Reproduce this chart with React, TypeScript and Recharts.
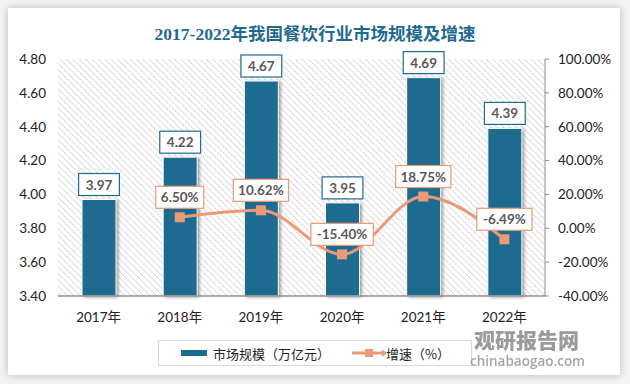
import React from "react";
import {
  ComposedChart,
  Bar,
  Line,
  XAxis,
  YAxis,
  LabelList,
  CartesianGrid,
} from "recharts";

const years = ["2017年", "2018年", "2019年", "2020年", "2021年", "2022年"];
const marketSize = [3.97, 4.22, 4.67, 3.95, 4.69, 4.39];
const growth = [null, 6.5, 10.62, -15.4, 18.75, -6.49];
const leftTicks = [3.4, 3.6, 3.8, 4.0, 4.2, 4.4, 4.6, 4.8];
const rightTicks = [-40, -20, 0, 20, 40, 60, 80, 100];

const data = years.map((year, i) => ({
  year,
  size: marketSize[i],
  growth: growth[i],
}));

const BAR_COLOR = "#1d6b8f";
const LINE_COLOR = "#e99a79";
const TEXT_FONT = "Lato, 'Noto Sans CJK SC', sans-serif";

function BoxLabel(props: any) {
  const { x, y, width, value, border, format, gap } = props;
  if (value == null) return null;
  const text = format(value);
  const w = text.length * 7.2 + 12;
  const h = 22;
  const cx = width != null ? x + width / 2 : x;
  const top = y - gap - h;
  return (
    <g>
      <rect
        x={cx - w / 2}
        y={top}
        width={w}
        height={h}
        fill="#fff"
        stroke={border}
        strokeWidth={1.2}
      />
      <text
        x={cx}
        y={top + h / 2 + 5}
        textAnchor="middle"
        fontFamily={TEXT_FONT}
        fontWeight={700}
        fontSize={13.5}
        fill="#595959"
      >
        {text}
      </text>
    </g>
  );
}

function LegendBox() {
  return (
    <div
      style={{
        position: "absolute",
        left: 158,
        top: 340,
        width: 314,
        height: 26,
        boxSizing: "border-box",
        border: "1px solid #d9d9d9",
        display: "flex",
        alignItems: "center",
        fontFamily: "'Noto Sans CJK SC', sans-serif",
        fontSize: 13,
        color: "#222",
      }}
    >
      <span
        style={{
          display: "inline-block",
          width: 26,
          height: 6,
          background: BAR_COLOR,
          marginLeft: 22,
          marginRight: 6,
        }}
      />
      <span>市场规模（万亿元）</span>
      <svg width={34} height={12} style={{ marginLeft: 22 }}>
        <line x1={0} y1={6} x2={34} y2={6} stroke={LINE_COLOR} strokeWidth={3} />
        <rect x={13} y={2} width={8} height={8} fill={LINE_COLOR} />
        <path d="M30 2 L34 6 L30 10 Z" fill={LINE_COLOR} />
      </svg>
      <span>增速（%）</span>
    </div>
  );
}

export default function App() {
  return (
    <div
      style={{
        position: "absolute",
        left: 0,
        top: 0,
        width: 630,
        height: 384,
        background: "#f4f4f4",
        overflow: "hidden",
      }}
    >
      <style>{`.bar-shadow .recharts-rectangle { filter: drop-shadow(2px 1px 1.5px rgba(0,0,0,0.35)); }`}</style>
      <svg
        width={10}
        height={10}
        style={{ position: "absolute", left: -50, top: -50 }}
      >
        <defs>
          <pattern
            id="hatch"
            width={4.5}
            height={4.5}
            patternUnits="userSpaceOnUse"
            patternTransform="rotate(-45)"
          >
            <line
              x1={0.6}
              y1={0}
              x2={0.6}
              y2={4.5}
              stroke="#c2c2c2"
              strokeWidth={1.2}
              strokeDasharray="1.1 1.15"
            />
          </pattern>
        </defs>
      </svg>
      <div
        style={{
          position: "absolute",
          left: 8,
          top: 8,
          width: 612,
          height: 367,
          background: "#fff",
          boxShadow: "0 0 8px rgba(0,0,0,0.25)",
        }}
      />
      <div
        style={{
          position: "absolute",
          left: 0,
          top: 20,
          width: 630,
          textAlign: "center",
          fontFamily: "'Liberation Serif', 'Noto Sans CJK SC', serif",
          fontWeight: 700,
          fontSize: 17.5,
          color: "#1f6a8e",
        }}
      >
        2017-2022年我国餐饮行业市场规模及增速
      </div>
      <div style={{ position: "absolute", left: 0, top: 0 }}>
        <ComposedChart
          width={630}
          height={384}
          data={data}
          margin={{ top: 59, right: 20, left: 0, bottom: 50 }}
        >
          <CartesianGrid
            yAxisId="left"
            horizontal={false}
            vertical={false}
            fill="url(#hatch)"
            fillOpacity={1}
          />
          <XAxis
            dataKey="year"
            axisLine={{ stroke: "#8c8c8c", strokeWidth: 1.5 }}
            tickLine={false}
            height={38}
            tickMargin={10}
            tick={{ fontFamily: TEXT_FONT, fontSize: 13.5, fill: "#222" }}
          />
          <YAxis
            yAxisId="left"
            orientation="left"
            width={58}
            domain={[3.4, 4.8]}
            ticks={leftTicks}
            axisLine={false}
            tickLine={false}
            tickMargin={6}
            tickFormatter={(v: number) => v.toFixed(2)}
            tick={{ fontFamily: TEXT_FONT, fontSize: 13.5, fill: "#222" }}
          />
          <YAxis
            yAxisId="right"
            orientation="right"
            width={65}
            domain={[-40, 100]}
            ticks={rightTicks}
            axisLine={{ stroke: "#8c8c8c" }}
            tickLine={{ stroke: "#8c8c8c" }}
            tickSize={4}
            tickMargin={9}
            tickFormatter={(v: number) => `${v.toFixed(2)}%`}
            tick={{ fontFamily: TEXT_FONT, fontSize: 13.5, fill: "#222", textAnchor: "start" }}
          />
          <Bar
            yAxisId="left"
            dataKey="size"
            className="bar-shadow"
            fill={BAR_COLOR}
            stroke="#fff"
            strokeWidth={1}
            barSize={34}
            isAnimationActive={false}
          >
            <LabelList
              dataKey="size"
              content={
                <BoxLabel
                  border={BAR_COLOR}
                  gap={4}
                  format={(v: number) => v.toFixed(2)}
                />
              }
            />
          </Bar>
          <Line
            yAxisId="right"
            dataKey="growth"
            type="monotone"
            stroke={LINE_COLOR}
            strokeWidth={3}
            dot={(p: any) =>
              p.value == null ? (
                <g key={p.index} />
              ) : (
                <rect
                  key={p.index}
                  x={p.cx - 5}
                  y={p.cy - 5}
                  width={10}
                  height={10}
                  fill={LINE_COLOR}
                />
              )
            }
            isAnimationActive={false}
            connectNulls
          >
            <LabelList
              dataKey="growth"
              content={
                <BoxLabel
                  border={LINE_COLOR}
                  gap={9}
                  format={(v: number) => `${v.toFixed(2)}%`}
                />
              }
            />
          </Line>
        </ComposedChart>
      </div>
      <LegendBox />
      <div
        style={{
          position: "absolute",
          left: 474,
          top: 329,
          lineHeight: 1,
          fontFamily: "'Noto Sans CJK SC', sans-serif",
          fontWeight: 900,
          fontSize: 21,
          color: "#8a8a8a",
          opacity: 0.85,
        }}
      >
        观研报告网
      </div>
      <div
        style={{
          position: "absolute",
          left: 470,
          top: 355,
          lineHeight: 1,
          fontFamily: "'Open Sans', sans-serif",
          fontWeight: 600,
          fontSize: 13.5,
          color: "#9a9a9a",
          opacity: 0.9,
        }}
      >
        chinabaogao.com
      </div>
    </div>
  );
}
